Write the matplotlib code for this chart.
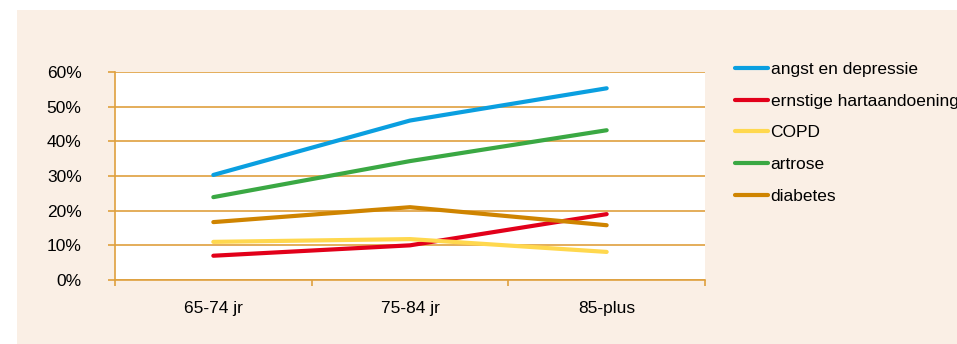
import matplotlib
matplotlib.use("Agg")
import matplotlib.pyplot as plt
from matplotlib.patches import Rectangle
from matplotlib.ticker import FuncFormatter

categories = ["65-74 jr", "75-84 jr", "85-plus"]
series_names = ["angst en depressie", "ernstige hartaandoening", "COPD", "artrose", "diabetes"]
angst = [30.3, 46.0, 55.3]
hart = [7.0, 10.0, 19.0]
copd = [11.0, 11.8, 8.1]
artrose = [23.9, 34.3, 43.2]
diabetes = [16.7, 21.0, 15.8]
y_ticks = [0, 10, 20, 30, 40, 50, 60]

colors = ["#0a9fe0", "#e2001a", "#ffd84e", "#3aa843", "#cf8400"]
grid_c = "#dfa03e"
bg = "#faefe5"

plt.rcParams["font.family"] = ["Liberation Sans", "DejaVu Sans"]

fig = plt.figure(figsize=(9.57, 3.44), dpi=100)
fig.patches.append(Rectangle((17 / 957, 0), 1, 334 / 344, transform=fig.transFigure,
                             facecolor=bg, edgecolor="none", zorder=-10))

ax = fig.add_axes([115 / 957, 64 / 344, 590 / 957, 208 / 344])
ax.set_facecolor("white")

x = range(len(categories))
for vals, name, c in zip([angst, hart, copd, artrose, diabetes], series_names, colors):
    ax.plot(x, vals, color=c, lw=3.0, solid_capstyle="round", label=name)

ax.set_xlim(-0.5, 2.5)
ax.set_ylim(0, 60)
ax.set_yticks(y_ticks)
ax.yaxis.set_major_formatter(FuncFormatter(lambda v, p: f"{v:.0f}%"))
# ticks on the category boundaries, labels centred in between
ax.set_xticks([-0.5, 0.5, 1.5, 2.5])
ax.set_xticklabels([])
ax.set_xticks(list(x), minor=True)
ax.set_xticklabels(categories, minor=True)
ax.tick_params(axis="x", which="minor", length=0, pad=15, labelsize=12.5)
ax.tick_params(axis="x", which="major", length=4, color=grid_c, width=1.2)
ax.tick_params(axis="y", length=5, color=grid_c, width=1.2, labelsize=12.5, pad=19)
ax.grid(axis="y", color=grid_c, lw=1.2)
ax.set_axisbelow(True)
for s in ["top", "right"]:
    ax.spines[s].set_visible(False)
for s in ["left", "bottom"]:
    ax.spines[s].set_color(grid_c)
    ax.spines[s].set_linewidth(1.2)

leg = ax.legend(loc="upper left", bbox_to_anchor=(735 / 957, 1 - 62 / 344),
                bbox_transform=fig.transFigure, frameon=False, fontsize=12.5,
                handlelength=1.9, handletextpad=0.15, labelspacing=0.95,
                borderaxespad=0, borderpad=0)

fig.savefig("out.png", dpi=100, facecolor="white")
